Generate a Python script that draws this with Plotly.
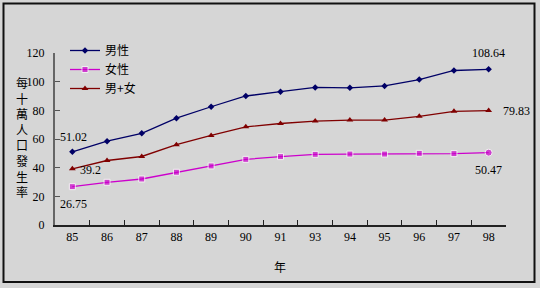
import plotly.graph_objects as go

years = ["85", "86", "87", "88", "89", "90", "91", "93", "94", "95", "96", "97", "98"]
male = [51.02, 58.5, 64.0, 74.5, 82.5, 90.0, 93.0, 96.0, 95.7, 97.0, 101.5, 107.8, 108.64]
female = [26.75, 29.8, 32.1, 36.8, 41.2, 45.8, 47.7, 49.3, 49.5, 49.5, 50.0, 49.8, 50.47]
both = [39.2, 45.0, 47.8, 56.0, 62.5, 68.5, 70.8, 72.5, 73.2, 73.2, 75.8, 79.3, 79.83]
names = ["男性", "女性", "男+女"]
ytitle = "每十萬人口發生率"
xtitle = "年"

W, H = 540, 288
L, R, T, B = 55, 34, 53, 63
pw, ph = W - L - R, H - T - B

def px(x):
    return (x - L) / pw

def py(y):
    return (H - B - y) / ph

serif = "Liberation Serif"
cjk = "Noto Sans CJK TC"

fig = go.Figure()
fig.add_trace(go.Scatter(x=years, y=male, name=names[0], mode="lines+markers",
                         line=dict(color="#000066", width=1.3),
                         marker=dict(symbol="diamond", size=5, color="#000066")))
fig.add_trace(go.Scatter(x=years, y=female, name=names[1], mode="lines+markers",
                         line=dict(color="#cc00cc", width=1.3),
                         marker=dict(symbol=["square"] * (len(years) - 1) + ["circle"],
                                     size=[6] * (len(years) - 1) + [7], color="#cc00cc")))
fig.add_trace(go.Scatter(x=years, y=both, name=names[2], mode="lines+markers",
                         line=dict(color="#800000", width=1.3),
                         marker=dict(symbol="triangle-up", size=6, color="#800000")))

first, last = 0, len(years) - 1
anns = [
    (first, male[0], "51.02", 1, 15),
    (first, both[0], "39.2", 18, -1),
    (first, female[0], "26.75", 1, -17),
    (last, male[-1], "108.64", 0, 16),
    (last, both[-1], "79.83", 28, 0),
    (last, female[-1], "50.47", 0, -17),
]
for x, y, t, dx, dy in anns:
    fig.add_annotation(x=x, y=y, xref="x", yref="y", text=t, showarrow=False,
                       xanchor="center", yanchor="middle", xshift=dx, yshift=dy,
                       font=dict(family=serif, size=12, color="#000"))

fig.add_annotation(xref="paper", yref="paper", x=px(22), y=py(137),
                   xanchor="center", yanchor="middle",
                   text="<br>".join(ytitle), showarrow=False,
                   font=dict(family=cjk, size=12, color="#000"))
fig.add_annotation(xref="paper", yref="paper", x=px(280), y=py(266),
                   xanchor="center", yanchor="middle",
                   text=xtitle, showarrow=False,
                   font=dict(family=cjk, size=12, color="#000"))

fig.add_shape(type="rect", xref="paper", yref="paper",
              x0=px(3.5), x1=px(534.5), y0=py(282), y1=py(3.5),
              line=dict(color="#111", width=2), layer="below")

fig.update_layout(
    width=W, height=H, margin=dict(l=L, r=R, t=T, b=B),
    paper_bgcolor="#d6d6d6", plot_bgcolor="#d6d6d6",
    showlegend=True,
    legend=dict(x=px(65), y=py(36), xanchor="left", yanchor="top",
                bgcolor="rgba(0,0,0,0)", font=dict(family=cjk, size=12, color="#000"),
                itemwidth=30, tracegroupgap=0),
    xaxis=dict(type="category", categoryorder="array", categoryarray=years,
               tickson="boundaries", ticks="inside", ticklen=5, tickcolor="#222",
               showline=True, linecolor="#222", linewidth=1.5, showgrid=False,
               zeroline=False, tickfont=dict(family=serif, size=12, color="#000"),
               range=[-0.5, len(years) - 0.5], fixedrange=True),
    yaxis=dict(range=[0, 120], tickvals=[0, 20, 40, 60, 80, 100, 120],
               ticks="inside", ticklen=5, tickcolor="#555",
               showline=True, linecolor="#666", linewidth=2, showgrid=False,
               zeroline=False, tickfont=dict(family=serif, size=12, color="#000"),
               ticklabelstandoff=6, fixedrange=True),
)

fig.write_html("out.html")
